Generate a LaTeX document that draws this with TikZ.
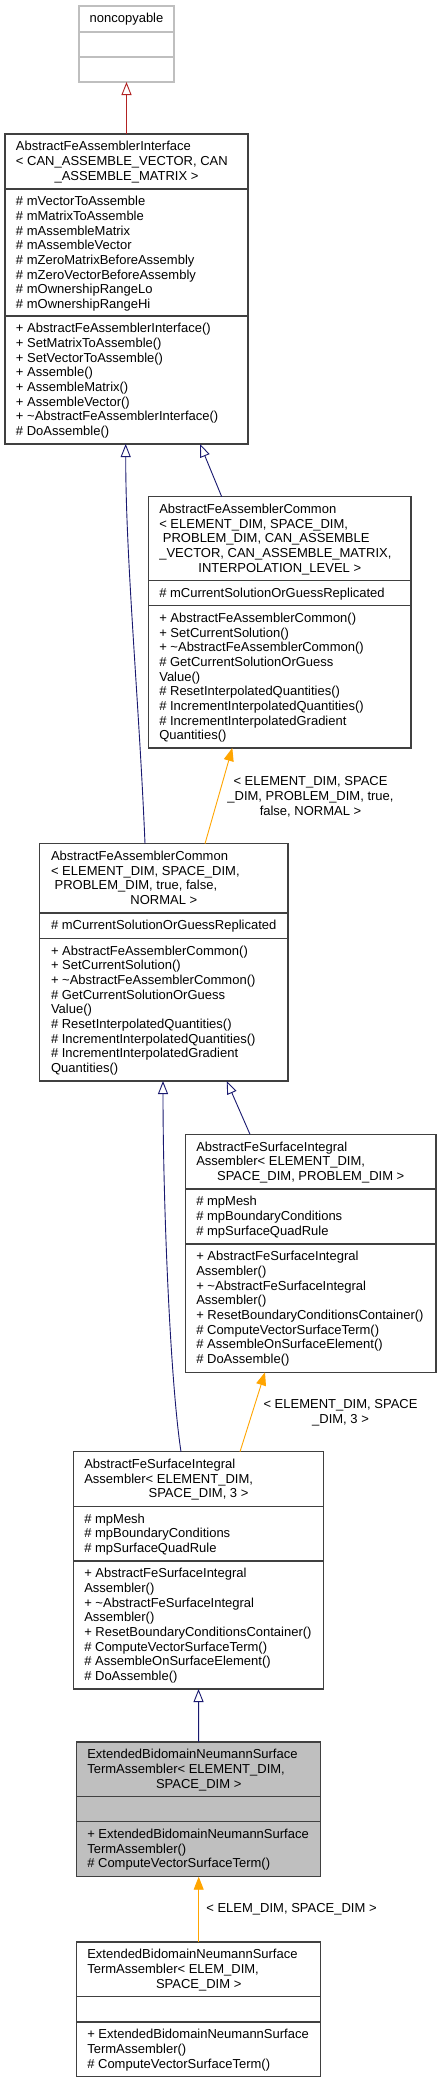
\documentclass[tikz,border=0pt]{standalone}
\usepackage{fontspec}
\setmainfont{Liberation Sans}
\usetikzlibrary{arrows.meta,calc}
\definecolor{edgeblue}{HTML}{191970}
\definecolor{edgered}{HTML}{B22222}
\definecolor{edgeorange}{HTML}{FFA500}
\definecolor{boxline}{HTML}{404040}
\definecolor{boxgray}{HTML}{BFBFBF}
\tikzset{
  txt/.style={font=\fontsize{13}{15}\selectfont, inner sep=0pt, outer sep=0pt, text=black},
  umlbox/.style={draw=boxline, line width=1.1pt, inner sep=0pt, outer sep=0pt, anchor=north west},
  sepline/.style={draw=boxline, line width=1.1pt},
  inherit/.style={draw=edgeblue, line width=0.9pt, -{Triangle[open, length=13pt, width=10pt]}},
  inheritred/.style={draw=edgered, line width=0.9pt, -{Triangle[open, length=13pt, width=10pt]}},
  templ/.style={draw=edgeorange, line width=0.9pt, -{Triangle[length=13pt, width=10pt]}},
}
\newcommand{\umllines}[4]{\foreach \mytext [count=\k from 0] in {#4} {\node[txt, anchor=base west] (#3\k) at (#1, #2+\k*14.67) {\mytext};}}
\begin{document}
\begin{tikzpicture}[x=1pt, y=-1pt]
\useasboundingbox (0,0) rectangle (441,2083);
\fill[white] (0,0) rectangle (441,2083);

% noncopyable
\node[umlbox, draw=boxgray, minimum width=95pt, minimum height=76pt] (nc) at (79,6) {};
\draw[sepline, draw=boxgray] (79,32) -- (174,32);
\draw[sepline, draw=boxgray] (79,57) -- (174,57);
\node[txt, anchor=base] (nct) at (126.5,22) {noncopyable};

% AbstractFeAssemblerInterface
\node[umlbox, minimum width=243pt, minimum height=310pt] (ifc) at (5,134) {};
\draw[sepline] (5,189) -- (248,189);
\draw[sepline] (5,316) -- (248,316);
\umllines{16}{150.7}{ifct}{AbstractFeAssemblerInterface, {< CAN\_ASSEMBLE\_VECTOR, CAN}}
\node[txt, anchor=base] (ifctc) at (126.5,180) {\_ASSEMBLE\_MATRIX >};
\umllines{16}{205.7}{ifca}{\# mVectorToAssemble, \# mMatrixToAssemble, \# mAssembleMatrix, \# mAssembleVector, \# mZeroMatrixBeforeAssembly, \# mZeroVectorBeforeAssembly, \# mOwnershipRangeLo, \# mOwnershipRangeHi}
\umllines{16}{332.7}{ifcm}{+ AbstractFeAssemblerInterface(), + SetMatrixToAssemble(), + SetVectorToAssemble(), + Assemble(), + AssembleMatrix(), + AssembleVector(), + \textasciitilde AbstractFeAssemblerInterface(), \# DoAssemble()}

% AbstractFeAssemblerCommon generic
\node[umlbox, minimum width=262.3pt, minimum height=251.3pt] (cg) at (148.7,496.7) {};
\draw[sepline] (148.7,580.3) -- (411,580.3);
\draw[sepline] (148.7,605.7) -- (411,605.7);
\umllines{159.3}{513.4}{cgt}{AbstractFeAssemblerCommon, {< ELEMENT\_DIM, SPACE\_DIM,}, {\ PROBLEM\_DIM, CAN\_ASSEMBLE}, {\_VECTOR, CAN\_ASSEMBLE\_MATRIX,}}
\node[txt, anchor=base] (cgtc) at (279.8,572.1) {INTERPOLATION\_LEVEL >};
\umllines{159.3}{597}{cga}{\# mCurrentSolutionOrGuessReplicated}
\umllines{159.3}{622.4}{cgm}{+ AbstractFeAssemblerCommon(), + SetCurrentSolution(), + \textasciitilde AbstractFeAssemblerCommon(), \# GetCurrentSolutionOrGuess, Value(), \# ResetInterpolatedQuantities(), \# IncrementInterpolatedQuantities(), \# IncrementInterpolatedGradient, Quantities()}

% AbstractFeAssemblerCommon instance
\node[umlbox, minimum width=248.3pt, minimum height=237.3pt] (ci) at (39.7,843.7) {};
\draw[sepline] (39.7,913) -- (288,913);
\draw[sepline] (39.7,938.3) -- (288,938.3);
\umllines{51}{860.4}{cit}{AbstractFeAssemblerCommon, {< ELEMENT\_DIM, SPACE\_DIM,}, {\ PROBLEM\_DIM, true, false,}}
\node[txt, anchor=base] (citc) at (163.8,904.4) {NORMAL >};
\umllines{51}{929.7}{cia}{\# mCurrentSolutionOrGuessReplicated}
\umllines{51}{955}{cim}{+ AbstractFeAssemblerCommon(), + SetCurrentSolution(), + \textasciitilde AbstractFeAssemblerCommon(), \# GetCurrentSolutionOrGuess, Value(), \# ResetInterpolatedQuantities(), \# IncrementInterpolatedQuantities(), \# IncrementInterpolatedGradient, Quantities()}

% AbstractFeSurfaceIntegralAssembler generic
\node[umlbox, minimum width=250.7pt, minimum height=238pt] (sg) at (185.3,1134.3) {};
\draw[sepline] (185.3,1189) -- (436,1189);
\draw[sepline] (185.3,1244) -- (436,1244);
\umllines{196.3}{1151}{sgt}{AbstractFeSurfaceIntegral, {Assembler< ELEMENT\_DIM,}}
\node[txt, anchor=base] (sgtc) at (310.7,1180.3) {SPACE\_DIM, PROBLEM\_DIM >};
\umllines{196.3}{1205.7}{sga}{\# mpMesh, \# mpBoundaryConditions, \# mpSurfaceQuadRule}
\umllines{196.3}{1260.7}{sgm}{+ AbstractFeSurfaceIntegral, Assembler(), + \textasciitilde AbstractFeSurfaceIntegral, Assembler(), + ResetBoundaryConditionsContainer(), \# ComputeVectorSurfaceTerm(), \# AssembleOnSurfaceElement(), \# DoAssemble()}

% AbstractFeSurfaceIntegralAssembler instance
\node[umlbox, minimum width=250.4pt, minimum height=237.3pt] (si) at (73.3,1451.7) {};
\draw[sepline] (73.3,1506.3) -- (323.7,1506.3);
\draw[sepline] (73.3,1561) -- (323.7,1561);
\umllines{84.3}{1468.4}{sit}{AbstractFeSurfaceIntegral, {Assembler< ELEMENT\_DIM,}}
\node[txt, anchor=base] (sitc) at (198.5,1497.7) {SPACE\_DIM, 3 >};
\umllines{84.3}{1523}{sia}{\# mpMesh, \# mpBoundaryConditions, \# mpSurfaceQuadRule}
\umllines{84.3}{1577.7}{sim}{+ AbstractFeSurfaceIntegral, Assembler(), + \textasciitilde AbstractFeSurfaceIntegral, Assembler(), + ResetBoundaryConditionsContainer(), \# ComputeVectorSurfaceTerm(), \# AssembleOnSurfaceElement(), \# DoAssemble()}

% ExtendedBidomainNeumannSurfaceTermAssembler (focus)
\node[umlbox, fill=boxgray, minimum width=244pt, minimum height=134.7pt] (ex) at (76.7,1742) {};
\draw[sepline] (76.7,1796.3) -- (320.7,1796.3);
\draw[sepline] (76.7,1821.7) -- (320.7,1821.7);
\umllines{87.3}{1758.7}{ext}{ExtendedBidomainNeumannSurface, {TermAssembler< ELEMENT\_DIM,}}
\node[txt, anchor=base] (extc) at (198.7,1788) {SPACE\_DIM >};
\umllines{87.3}{1838.4}{exm}{+ ExtendedBidomainNeumannSurface, TermAssembler(), \# ComputeVectorSurfaceTerm()}

% ExtendedBidomainNeumannSurfaceTermAssembler instance
\node[umlbox, minimum width=244pt, minimum height=134.7pt] (bt) at (76.7,1942) {};
\draw[sepline] (76.7,1996.3) -- (320.7,1996.3);
\draw[sepline] (76.7,2022) -- (320.7,2022);
\umllines{87.3}{1958.7}{btt}{ExtendedBidomainNeumannSurface, {TermAssembler< ELEM\_DIM,}}
\node[txt, anchor=base] (bttc) at (198.7,1988) {SPACE\_DIM >};
\umllines{87.3}{2038.7}{btm}{+ ExtendedBidomainNeumannSurface, TermAssembler(), \# ComputeVectorSurfaceTerm()}

% connectors
\draw[inheritred] (ifc.north) -- (nc.south);
\draw[inherit] ($(cg.north west)+(73,0)$) -- ($(ifc.south west)+(195,0)$);
\draw[inherit] ($(ci.north west)+(105.3,0)$) .. controls (139,700) and (125.7,560) .. ($(ifc.south west)+(120.7,0)$);
\draw[templ] ($(ci.north west)+(165.3,0)$) -- ($(cg.south west)+(83.6,0)$);
\draw[inherit] ($(si.north west)+(107.7,0)$) .. controls (170,1380) and (163,1200) .. ($(ci.south west)+(123.3,0)$);
\draw[inherit] ($(sg.north west)+(64.7,0)$) -- ($(ci.south west)+(187,0)$);
\draw[templ] ($(si.north west)+(166.7,0)$) -- ($(sg.south west)+(79.7,0)$);
\draw[inherit] (ex.north) -- (si.south);
\draw[templ] (bt.north) -- (ex.south);

% connector labels
\node[txt, anchor=base] (lab1a) at (310.5,785.7) {< ELEMENT\_DIM, SPACE};
\node[txt, anchor=base] (lab1b) at (310.5,800.3) {\_DIM, PROBLEM\_DIM, true,};
\node[txt, anchor=base] (lab1c) at (310.5,815) {false, NORMAL >};
\node[txt, anchor=base] (lab2a) at (340.5,1408.3) {< ELEMENT\_DIM, SPACE};
\node[txt, anchor=base] (lab2b) at (340.5,1423) {\_DIM, 3 >};
\node[txt, anchor=base] (lab3) at (291.5,1912.7) {< ELEM\_DIM, SPACE\_DIM >};
\end{tikzpicture}
\end{document}
